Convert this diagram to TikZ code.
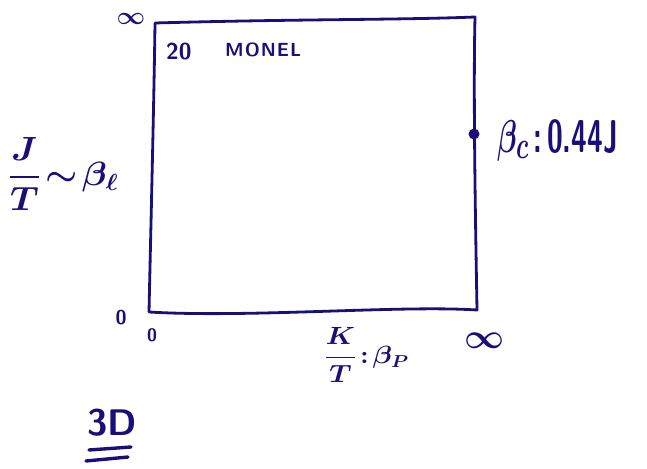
\documentclass[tikz,border=0pt]{standalone}
\usepackage{amsmath}
\definecolor{ink}{HTML}{1A0E78}
\begin{document}
\begin{tikzpicture}[x=1pt,y=-1pt,
  pen/.style={draw=ink,line width=2.8pt,line cap=round,line join=round},
  lbl/.style={text=ink,inner sep=0pt,font=\bfseries},
]
\useasboundingbox (0,0) rectangle (647,468);
% box corners
\coordinate (tl) at (155,23);
\coordinate (tr) at (475,17);
\coordinate (br) at (477,310);
\coordinate (bl) at (149,312);
\draw[pen] (tl) .. controls (300,19) and (400,20) .. (tr)
  .. controls (473,100) and (476,250) .. (br)
  .. controls (400,305) and (250,318) .. (bl)
  .. controls (151,220) and (154,100) .. (tl);
% critical point
\coordinate (c) at (474,134);
\fill[ink] (c) circle (5.5pt);
\node[lbl,anchor=west,font=\sffamily\bfseries\fontsize{24.88}{26}\selectfont,xscale=1.15,yscale=1.85] (bc) at (497,140) {$\boldsymbol{\beta_c}$\,:\,0.44J};
% top label
\node[lbl,anchor=west,font=\sffamily\bfseries\fontsize{23}{24}\selectfont] (m2a) at (166,52) {20};
\node[lbl,anchor=west,font=\sffamily\bfseries\fontsize{19}{20}\selectfont] (m2b) at (225,50) {M\kern1ptO\kern1ptN\kern1ptE\kern1ptL};
% top-left infinity
\node[lbl,font=\fontsize{24}{24}\selectfont] (inf1) at (131,19) {$\boldsymbol{\infty}$};
% left label
\node[lbl,anchor=west,font=\fontsize{24}{26}\selectfont,xscale=1.45,yscale=1.35] (jt) at (8,174) {$\boldsymbol{\dfrac{J}{T}\!\sim\!\beta_\ell}$};
% zeros
\node[lbl,font=\sffamily\bfseries\fontsize{20}{20}\selectfont] (z1) at (121,318) {0};
\node[lbl,font=\sffamily\bfseries\fontsize{18}{18}\selectfont] (z2) at (152,335) {0};
% bottom label
\node[lbl,anchor=west,font=\fontsize{22}{24}\selectfont,xscale=1.35,yscale=1.2] (kt) at (324,355) {$\boldsymbol{\dfrac{K}{T}\!:\!\beta_P}$};
% bottom-right infinity
\node[lbl,font=\fontsize{24}{24}\selectfont,scale=1.4] (inf2) at (485,341) {$\boldsymbol{\infty}$};
% 3D
\node[lbl,font=\sffamily\bfseries\fontsize{37}{37}\selectfont] (d3) at (112,423) {3D};
\coordinate (u1a) at (89,450); \coordinate (u1b) at (131,447);
\coordinate (u2a) at (86,461); \coordinate (u2b) at (128,457);
\draw[pen,line width=3.4pt] (u1a) -- (u1b);
\draw[pen,line width=3.4pt] (u2a) -- (u2b);
\end{tikzpicture}
\end{document}
